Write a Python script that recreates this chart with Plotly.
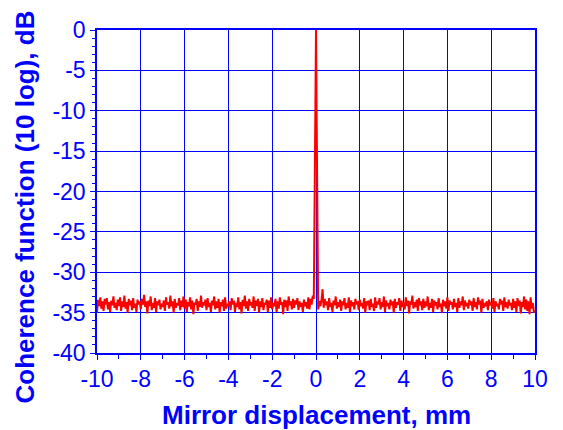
import numpy as np
import plotly.graph_objects as go

# Mirror displacement grid (mm), step 0.05 from -10 to 10
x_start, x_stop, x_step = -10.0, 10.0, 0.05
displacement = np.round(np.arange(x_start, x_stop + x_step / 2, x_step), 2)

# Coherence function (10 log), dB, one row per mm
coherence_db = [
    -35.0, -33.4, -34.2, -33.1, -34.5, -33.6, -34.8, -33.3, -34.0, -33.2, -34.6, -33.7, -34.9, -33.5, -34.1, -33.0, -34.4, -33.8, -34.7, -33.4,
    -34.2, -33.1, -34.8, -33.6, -34.3, -32.9, -34.5, -33.7, -35.0, -33.3, -34.1, -33.5, -34.7, -33.2, -34.4, -33.9, -34.9, -33.4, -34.0, -33.6,
    -34.6, -33.3, -34.0, -32.8, -34.3, -33.6, -35.1, -33.5, -34.2, -33.0, -34.7, -33.8, -34.4, -33.2, -34.9, -33.6, -34.1, -33.4, -34.6, -33.9,
    -34.3, -33.5, -34.8, -33.1, -34.0, -33.7, -34.5, -32.9, -34.2, -33.6, -35.0, -33.3, -34.4, -33.8, -34.1, -33.2, -34.7, -33.5, -34.3, -33.0,
    -34.5, -33.4, -34.9, -33.7, -34.2, -33.1, -34.6, -33.5, -35.2, -33.8, -34.0, -33.3, -34.8, -33.6, -34.3, -32.9, -34.4, -33.7, -34.1, -33.4,
    -34.7, -33.2, -34.3, -33.8, -34.9, -33.5, -34.1, -33.0, -34.6, -33.6, -34.4, -33.3, -35.0, -33.7, -34.2, -33.4, -34.8, -33.1, -34.5, -33.9,
    -34.2, -33.6, -34.7, -33.2, -34.0, -33.5, -34.9, -33.8, -34.3, -33.1, -34.6, -33.7, -35.1, -33.4, -34.2, -32.9, -34.5, -33.6, -34.8, -33.3,
    -34.1, -33.7, -34.4, -33.0, -34.8, -33.5, -34.2, -33.3, -35.0, -33.6, -34.3, -33.2, -34.7, -33.8, -34.0, -33.4, -34.9, -33.5, -34.4, -33.1,
    -34.6, -33.8, -34.2, -33.3, -34.9, -33.6, -34.5, -33.1, -34.0, -33.7, -35.2, -33.4, -34.3, -33.5, -34.8, -33.0, -34.1, -33.6, -34.6, -33.3,
    -34.4, -33.5, -34.0, -33.2, -34.7, -33.6, -34.3, -33.8, -34.9, -33.4, -34.2, -33.7, -34.5, -33.1, -34.6, -33.3, -34.0, -32.9, -33.3, -18.0,
    0.0, -18.0, -34.6, -33.6, -34.2, -33.5, -32.1, -34.4, -33.3, -34.1, -33.6, -34.7, -33.2, -34.3, -33.8, -34.9, -33.5, -34.1, -33.0, -34.5,
    -33.7, -34.3, -33.4, -34.8, -33.6, -34.1, -33.2, -34.6, -33.8, -34.4, -33.1, -34.9, -33.5, -34.2, -33.7, -34.6, -33.3, -34.0, -33.6, -34.7,
    -33.4, -34.2, -33.8, -34.5, -33.2, -35.0, -33.6, -34.1, -33.5, -34.7, -33.3, -34.3, -33.9, -34.8, -33.1, -34.4, -33.6, -34.0, -33.2, -34.6,
    -33.7, -34.3, -33.0, -34.9, -33.5, -34.2, -33.8, -34.6, -33.4, -34.1, -33.6, -35.0, -33.3, -34.4, -33.7, -34.0, -33.2, -34.8, -33.5, -34.3,
    -33.8, -34.6, -33.1, -34.2, -33.5, -35.1, -33.6, -34.0, -32.9, -34.5, -33.7, -34.3, -33.4, -34.8, -33.2, -34.1, -33.6, -34.7, -33.3, -34.4,
    -33.6, -34.2, -33.0, -34.7, -33.8, -34.4, -33.3, -34.9, -33.5, -34.1, -33.7, -34.6, -33.2, -34.3, -33.9, -35.0, -33.4, -34.2, -33.6, -34.5,
    -33.1, -34.8, -33.5, -34.0, -33.7, -34.6, -33.3, -34.3, -33.8, -34.9, -33.2, -34.4, -33.6, -34.1, -33.0, -34.7, -33.5, -34.2, -33.8, -34.5,
    -33.4, -34.1, -33.6, -34.8, -33.2, -34.3, -33.7, -34.6, -33.1, -34.0, -33.5, -35.0, -33.3, -34.4, -33.8, -34.2, -33.6, -34.7, -33.4, -34.1,
    -33.7, -34.5, -33.2, -34.9, -33.6, -34.2, -33.9, -34.6, -33.3, -34.0, -33.5, -34.8, -33.1, -34.3, -33.7, -34.5, -33.4, -34.1, -33.8, -34.7,
    -33.3, -34.4, -33.6, -34.9, -33.2, -34.2, -33.5, -35.1, -33.7, -34.3, -33.0, -34.6, -33.4, -34.8, -33.6, -35.2, -33.1, -34.5, -33.8, -35.0,
    -34.7,
]

x_ticks = [-10, -8, -6, -4, -2, 0, 2, 4, 6, 8, 10]
y_ticks = [-40, -35, -30, -25, -20, -15, -10, -5, 0]
x_title = "Mirror displacement, mm"
y_title = "Coherence function (10 log), dB"

BLUE = "#0000FF"
FONT = "Liberation Sans, Arial, sans-serif"

fig = go.Figure()
fig.add_trace(go.Scatter(
    x=displacement, y=coherence_db, mode="lines",
    line=dict(color="#FF0000", width=2),
    showlegend=False,
))

axis_common = dict(
    showline=True, linecolor=BLUE, linewidth=1.5, mirror=True,
    showgrid=True, gridcolor=BLUE, gridwidth=1,
    ticks="outside", tickcolor=BLUE, ticklen=5, tickwidth=1,
    tickfont=dict(family=FONT, size=23, color=BLUE),
    zeroline=False,
)

fig.update_xaxes(
    range=[-10, 10], tickmode="array", tickvals=x_ticks,
    ticktext=[str(v) for v in x_ticks],
    minor=dict(dtick=1, ticks="outside", ticklen=4, tickcolor=BLUE, showgrid=False),
    **axis_common,
)
fig.update_yaxes(
    range=[-40, 0], tickmode="array", tickvals=y_ticks,
    ticktext=[str(v) for v in y_ticks],
    minor=dict(dtick=1, ticks="outside", ticklen=3, tickcolor=BLUE, showgrid=False),
    **axis_common,
)

fig.add_annotation(
    text=f"<b>{x_title}</b>", xref="paper", yref="paper", x=0.5, y=0,
    xanchor="center", yanchor="middle", yshift=-62, showarrow=False,
    font=dict(family=FONT, size=26, color=BLUE),
)
fig.add_annotation(
    text=f"<b>{y_title}</b>", xref="paper", yref="paper", x=0, y=0.5,
    xanchor="center", yanchor="middle", xshift=-73, yshift=-16,
    textangle=-90, showarrow=False,
    font=dict(family=FONT, size=26, color=BLUE),
)

fig.update_layout(
    width=555, height=422,
    margin=dict(l=89, r=28, t=22, b=77, autoexpand=False),
    paper_bgcolor="white", plot_bgcolor="white",
    font=dict(family=FONT, color=BLUE),
)

fig.write_html("out.html")
